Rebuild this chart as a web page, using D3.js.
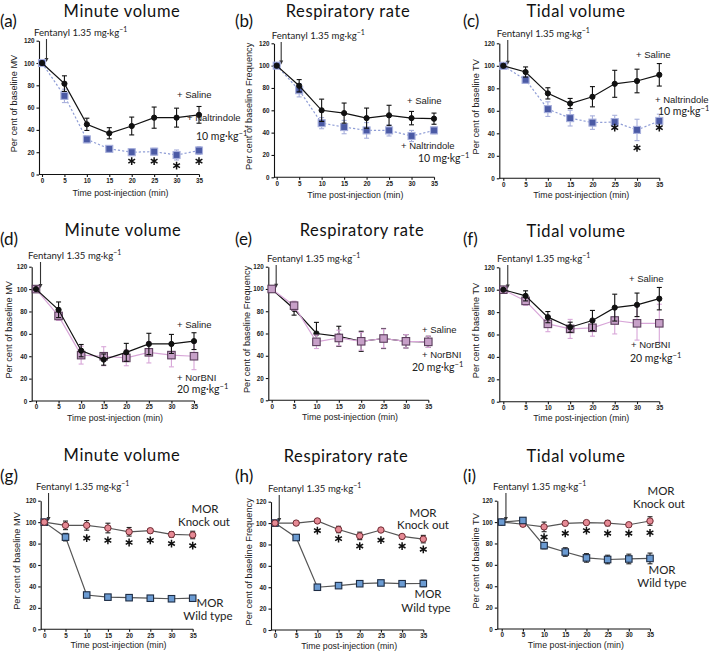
<!DOCTYPE html>
<html><head><meta charset="utf-8">
<script src="https://cdn.jsdelivr.net/npm/d3@7"></script>
<style>
body{margin:0;background:#fff;}
svg{display:block;}
</style></head>
<body>
<svg id="chart" width="709" height="652"></svg>
<script>
// ---------- DATA ----------
const times = [0, 5, 10, 15, 20, 25, 30, 35];
const tickX = [0, 5, 10, 15, 20, 25, 30, 35];
const tickY = [0, 20, 40, 60, 80, 100, 120];

// Minute volume: saline vs naltrindole / norBNI
const mvSaline = [100, 81.5, 45, 37, 43.5, 51, 51, 53.5];
const mvSalineErr = [0, 7, 5.5, 5, 8, 9.5, 8.5, 7.5];
const mvNaltrindole = [100, 70.5, 31.5, 23, 20, 20.5, 17.5, 21.5];
const mvNaltrindoleErr = [0, 6, 3, 2, 3, 3, 4.5, 3.5];
const mvNorBNI = [100, 76, 41, 40, 38.5, 43.5, 41, 40];
const mvNorBNIErr = [0, 4, 8, 8.5, 7, 9.5, 10.5, 12];

// Respiratory rate
const rrSaline = [100, 82, 60, 57.5, 53, 55.5, 53, 52.5];
const rrSalineErr = [0, 5.5, 10, 9, 9, 9, 6, 5];
const rrNaltrindole = [100, 78, 48.5, 45, 42, 42, 37, 42];
const rrNaltrindoleErr = [0, 6, 5, 6, 7, 5, 5, 3];
const rrNorBNI = [100, 85, 52.5, 56, 53, 55.5, 53, 52.5];
const rrNorBNIErr = [0, 4, 6, 7, 8, 8.5, 6, 5];

// Tidal volume
const tvSaline = [100, 94.5, 75.5, 66.5, 72.5, 84, 86.5, 92];
const tvSalineErr = [0, 4.5, 5, 4.5, 9, 12, 10.5, 10];
const tvNaltrindole = [100, 87.5, 61.5, 53.5, 49.5, 50, 43, 51];
const tvNaltrindoleErr = [0, 3, 6.5, 7, 6, 6, 9.5, 6];
const tvNorBNI = [100, 90, 69.5, 65, 66, 72.5, 70, 70];
const tvNorBNIErr = [0, 4, 7, 8.5, 7.5, 12, 15, 17];

// MOR knock-out vs wild type
const mvKO = [100, 97, 97, 94.5, 91, 92, 88.5, 88];
const mvKOErr = [0, 4, 4.5, 4.5, 4, 2, 2.5, 3.5];
const mvWT = [100, 86, 32, 30, 29.5, 29, 28.5, 29];
const mvWTErr = [0, 3.5, 2, 2, 1.5, 1.5, 1.5, 2];
const rrKO = [100, 100, 102, 94, 88, 93.5, 87.5, 85];
const rrKOErr = [0, 1, 1.5, 3, 3.5, 1, 1.5, 3.5];
const rrWT = [100, 86.5, 40, 41.5, 43.3, 44, 43.3, 43.5];
const rrWTErr = [0, 2, 1, 1.5, 1, 1, 1.5, 3];
const tvKO = [100, 98, 95.5, 98.8, 99.5, 99, 97.5, 101];
const tvKOErr = [0, 2, 4.5, 2, 1, 2.5, 1, 4];
const tvWT = [100, 101.5, 78, 72, 66.5, 65, 65.5, 66];
const tvWTErr = [0, 2, 3, 4, 4, 4, 4.5, 5];

// significance asterisks (time, value)
const starsA = {t: [20, 25, 30, 35], v: [12, 12, 8, 12]};
const starsC = {t: [25, 30, 35], v: [45, 27, 45]};
const starsG = {t: [10, 15, 20, 25, 30, 35], v: [85, 83, 81, 83, 80, 78]};
const starsH = {t: [10, 15, 20, 25, 30, 35], v: [93, 85.5, 78.5, 84, 78.5, 75.5]};
const starsI = {t: [10, 15, 20, 25, 30, 35], v: [86, 89.5, 92, 89.5, 89.5, 90]};

const titles = ["Minute volume", "Respiratory rate", "Tidal volume"];
const yTitles = ["Per cent of baseline MV", "Per cent of baseline Frequency", "Per cent of baseline TV"];
const xTitle = "Time post-injection (min)";
const fentanylText = "Fentanyl 1.35 mg·kg";

// ---------- STYLES ----------
const styles = {
  saline: {line: "#111", dash: null, marker: "circle", r: 2.6, fill: "#111", stroke: "#111", err: "#111"},
  nal: {line: "#8f9dd6", dash: "2.2,2", marker: "square", s: 7, fill: "#4b5aa5", stroke: "#a8b0dc", err: "#a8b0dc"},
  nor: {line: "#d8a6d8", dash: null, marker: "square", s: 7.5, fill: "#c7a0c8", stroke: "#5b3e5c", err: "#d8a6d8"},
  ko: {line: "#555", dash: null, marker: "circle", r: 3.2, fill: "#e68a95", stroke: "#6e2a32", err: "#222"},
  wt: {line: "#555", dash: null, marker: "square", s: 6.5, fill: "#6b9bd2", stroke: "#1d2c44", err: "#222"}
};

// ---------- LAYOUT ----------
const sans = "'Liberation Sans', Arial, sans-serif";
const cal = "Lato, 'Open Sans', sans-serif";

const panels = [
  {lab: "(a)", k: 0, ax: 39, x0: 42, x35: 199, yT: 40.7, yB: 174.5, title: [122, 17], labPos: [0, 27], fen: [34, 36], ytx: 15, xtB: 21,
    series: [["nal", mvNaltrindole, mvNaltrindoleErr], ["saline", mvSaline, mvSalineErr]], stars: starsA,
    notes: [["+ Saline", 177, 98, sans, 9.5], ["+ Naltrindole", 187, 121, sans, 9.5], ["10 mg·kg|−1", 196, 140, cal, 10.5]]},
  {lab: "(b)", k: 1, ax: 274, x0: 276.7, x35: 434, yT: 43.3, yB: 177.3, title: [348, 17], labPos: [235, 27], fen: [271.7, 39], ytx: 250, xtB: 20.5,
    series: [["nal", rrNaltrindole, rrNaltrindoleErr], ["saline", rrSaline, rrSalineErr]], stars: null,
    notes: [["+ Saline", 407, 104, sans, 9.5], ["+ Naltrindole", 401, 149, sans, 9.5], ["10 mg·kg|−1", 418, 162, cal, 10.5]]},
  {lab: "(c)", k: 2, ax: 499.3, x0: 503.3, x35: 659.3, yT: 43.3, yB: 178.3, title: [576, 17], labPos: [463, 27], fen: [496.7, 37], ytx: 477, xtB: 20,
    series: [["nal", tvNaltrindole, tvNaltrindoleErr], ["saline", tvSaline, tvSalineErr]], stars: starsC,
    notes: [["+ Saline", 636, 58, sans, 9.5], ["+ Naltrindole", 655, 103, sans, 9.5], ["10 mg·kg|−1", 658, 115, cal, 10.5]]},
  {lab: "(d)", k: 0, ax: 31.7, x0: 36, x35: 194, yT: 266.7, yB: 401, title: [123, 236], labPos: [0, 245], fen: [28, 259], ytx: 10, xtB: 19.5,
    series: [["nor", mvNorBNI, mvNorBNIErr], ["saline", mvSaline, mvSalineErr]], stars: null,
    notes: [["+ Saline", 177, 328, sans, 9.5], ["+ NorBNI", 177, 381, sans, 9.5], ["20 mg·kg|−1", 177, 393, cal, 10.5]]},
  {lab: "(e)", k: 1, ax: 268.3, x0: 271.7, x35: 428.3, yT: 266.7, yB: 400.3, title: [362, 236], labPos: [235, 245], fen: [267, 262], ytx: 248, xtB: 20,
    series: [["saline", rrSaline, rrSalineErr], ["nor", rrNorBNI, rrNorBNIErr]], stars: null,
    notes: [["+ Saline", 422, 333, sans, 9.5], ["+ NorBNI", 422, 358, sans, 9.5], ["20 mg·kg|−1", 412, 371, cal, 10.5]]},
  {lab: "(f)", k: 2, ax: 499.3, x0: 503.3, x35: 659.3, yT: 267.3, yB: 401.7, title: [576, 237], labPos: [463, 245], fen: [497, 262], ytx: 477, xtB: 19.5,
    series: [["nor", tvNorBNI, tvNorBNIErr], ["saline", tvSaline, tvSalineErr]], stars: null,
    notes: [["+ Saline", 629, 282, sans, 9.5], ["+ NorBNI", 631, 348, sans, 9.5], ["20 mg·kg|−1", 630, 362, cal, 10.5]]},
  {lab: "(g)", k: 0, ax: 40.7, x0: 44.3, x35: 192.7, yT: 500.7, yB: 629.3, title: [122, 461], labPos: [0, 482], fen: [36, 490], ytx: 18, xtB: 19,
    series: [["wt", mvWT, mvWTErr], ["ko", mvKO, mvKOErr]], stars: starsG,
    notes: [["MOR", 205, 513, cal, 11.5, "middle"], ["Knock out", 204, 526, cal, 11.5, "middle"], ["MOR", 210, 607, cal, 11.5, "middle"], ["Wild type", 208, 620, cal, 11.5, "middle"]]},
  {lab: "(h)", k: 1, ax: 271, x0: 275, x35: 423.3, yT: 501.7, yB: 630, title: [346, 462], labPos: [235, 482], fen: [268, 492], ytx: 250, xtB: 19,
    series: [["wt", rrWT, rrWTErr], ["ko", rrKO, rrKOErr]], stars: starsH,
    notes: [["MOR", 423, 517, cal, 11.5, "middle"], ["Knock out", 423, 529, cal, 11.5, "middle"], ["MOR", 428, 598, cal, 11.5, "middle"], ["Wild type", 426, 612, cal, 11.5, "middle"]]},
  {lab: "(i)", k: 2, ax: 497.3, x0: 501.7, x35: 650, yT: 500.7, yB: 629, title: [576, 462], labPos: [463, 482], fen: [493, 490], ytx: 477, xtB: 19,
    series: [["ko", tvKO, tvKOErr], ["wt", tvWT, tvWTErr]], stars: starsI,
    notes: [["MOR", 661, 495, cal, 11.5, "middle"], ["Knock out", 659, 508, cal, 11.5, "middle"], ["MOR", 662, 574, cal, 11.5, "middle"], ["Wild type", 662, 587, cal, 11.5, "middle"]]}
];

// ---------- DRAW ----------
const svg = d3.select("#chart");

function supText(sel, str, size) {
  const parts = str.split("|");
  sel.text(null);
  sel.append("tspan").text(parts[0]);
  if (parts.length > 1) {
    sel.append("tspan").attr("dy", -size * 0.38).attr("font-size", size * 0.72).text(parts[1]);
  }
}

panels.forEach(p => {
  const g = svg.append("g");
  const x = d3.scaleLinear().domain([0, 35]).range([p.x0, p.x35]);
  const y = d3.scaleLinear().domain([0, 120]).range([p.yB, p.yT]);

  // titles & labels
  g.append("text").attr("x", p.title[0]).attr("y", p.title[1]).attr("text-anchor", "middle")
    .attr("font-family", cal).attr("font-size", 16.5).attr("letter-spacing", 0.6).attr("fill", "#111").text(titles[p.k]);
  g.append("text").attr("x", p.labPos[0]).attr("y", p.labPos[1])
    .attr("font-family", cal).attr("font-size", 17).attr("fill", "#111").text(p.lab);

  // axes
  const ya = g.append("g").attr("transform", `translate(${p.ax},0)`)
    .call(d3.axisLeft(y).tickValues(tickY).tickSize(2.5).tickPadding(2).tickSizeOuter(0));
  ya.selectAll("text").attr("font-family", sans).attr("font-weight", "bold").attr("font-size", 6.3).attr("fill", "#222");
  ya.selectAll("line,path").attr("stroke", "#111").attr("stroke-width", 1.1);

  const xa = g.append("g").attr("transform", `translate(0,${p.yB})`)
    .call(d3.axisBottom(x).tickValues(tickX).tickSize(2.5).tickPadding(1.5).tickSizeOuter(0));
  xa.select(".domain").remove();
  xa.selectAll("text").attr("font-family", sans).attr("font-weight", "bold").attr("font-size", 6.3).attr("fill", "#222");
  xa.selectAll("line").attr("stroke", "#111").attr("stroke-width", 1.1);
  g.append("line").attr("x1", p.ax).attr("x2", x(35) + 0.5).attr("y1", p.yB).attr("y2", p.yB)
    .attr("stroke", "#111").attr("stroke-width", 1.1);

  // axis titles
  g.append("text").attr("transform", `translate(${p.ytx},${(p.yT + p.yB) / 2 - 4}) rotate(-90)`)
    .attr("text-anchor", "middle").attr("dominant-baseline", "middle")
    .attr("font-family", sans).attr("font-size", 9.2).attr("fill", "#222").text(yTitles[p.k]);
  g.append("text").attr("x", (p.x0 + p.x35) / 2).attr("y", p.yB + p.xtB)
    .attr("text-anchor", "middle").attr("font-family", sans).attr("font-size", 8.8).attr("fill", "#222").text(xTitle);

  // fentanyl annotation + arrow
  const ft = g.append("text").attr("x", p.fen[0]).attr("y", p.fen[1])
    .attr("font-family", cal).attr("font-size", 9.6).attr("fill", "#222");
  supText(ft, fentanylText + "|−1", 9.6);
  const axp = x(1), yTop = p.fen[1] + 3, yEnd = y(101);
  g.append("line").attr("x1", axp).attr("x2", axp).attr("y1", yTop).attr("y2", yEnd - 3)
    .attr("stroke", "#333").attr("stroke-width", 1.1);
  g.append("path").attr("d", `M${axp - 2},${yEnd - 4}L${axp + 2},${yEnd - 4}L${axp},${yEnd}Z`).attr("fill", "#333");

  // series
  p.series.forEach(([key, vals, errs]) => {
    const st = styles[key];
    const pts = times.map((t, i) => ({t, v: vals[i], e: errs[i]}));
    // error bars
    const eb = g.append("g").attr("stroke", st.err).attr("stroke-width", 1.1);
    pts.filter(d => d.e > 0).forEach(d => {
      eb.append("line").attr("x1", x(d.t)).attr("x2", x(d.t)).attr("y1", y(d.v - d.e)).attr("y2", y(d.v + d.e));
      [d.v - d.e, d.v + d.e].forEach(v => eb.append("line").attr("x1", x(d.t) - 2.5).attr("x2", x(d.t) + 2.5).attr("y1", y(v)).attr("y2", y(v)));
    });
    // line
    const line = d3.line().x(d => x(d.t)).y(d => y(d.v));
    g.append("path").datum(pts).attr("d", line).attr("fill", "none")
      .attr("stroke", st.line).attr("stroke-width", 1.2).attr("stroke-dasharray", st.dash);
    // markers
    if (st.marker === "circle") {
      g.selectAll(null).data(pts).enter().append("circle")
        .attr("cx", d => x(d.t)).attr("cy", d => y(d.v)).attr("r", st.r)
        .attr("fill", st.fill).attr("stroke", st.stroke).attr("stroke-width", 1);
    } else {
      g.selectAll(null).data(pts).enter().append("rect")
        .attr("x", d => x(d.t) - st.s / 2).attr("y", d => y(d.v) - st.s / 2)
        .attr("width", st.s).attr("height", st.s)
        .attr("fill", st.fill).attr("stroke", st.stroke).attr("stroke-width", 1.1);
    }
  });

  // asterisks
  if (p.stars) {
    p.stars.t.forEach((t, i) => {
      const cx = x(t), cy = y(p.stars.v[i]), r = 3.9;
      let d = "";
      for (let a = 0; a < 3; a++) {
        const ang = Math.PI / 2 + a * Math.PI / 3;
        d += `M${cx + r * Math.cos(ang)},${cy - r * Math.sin(ang)}L${cx - r * Math.cos(ang)},${cy + r * Math.sin(ang)}`;
      }
      g.append("path").attr("d", d).attr("stroke", "#111").attr("stroke-width", 1.5);
    });
  }

  // notes
  p.notes.forEach(([txt, nx, ny, fam, fs, anchor]) => {
    const t = g.append("text").attr("x", nx).attr("y", ny).attr("font-family", fam)
      .attr("font-size", fs).attr("fill", "#222").attr("text-anchor", anchor || "start");
    supText(t, txt, fs);
  });
});
</script>
</body></html>
